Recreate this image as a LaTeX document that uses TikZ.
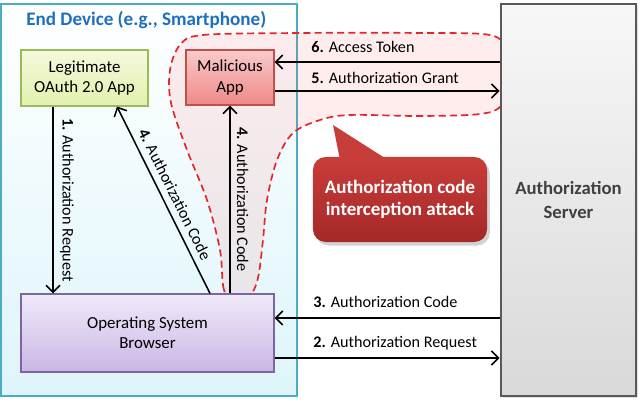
\documentclass[tikz,border=0pt]{standalone}
\usepackage{fontspec}
\setmainfont{Carlito}
\usetikzlibrary{arrows.meta,shadows}

\definecolor{devline}{HTML}{4BACC6}
\definecolor{devbot}{HTML}{DDF5FB}
\definecolor{titleblue}{HTML}{1F6FC0}
\definecolor{legitline}{HTML}{9BBB59}
\definecolor{legittop}{HTML}{F4F9DC}
\definecolor{legitbot}{HTML}{E3F0AE}
\definecolor{malline}{HTML}{C0504D}
\definecolor{maltop}{HTML}{F9CACA}
\definecolor{malbot}{HTML}{EF8888}
\definecolor{brline}{HTML}{7D65A0}
\definecolor{brtop}{HTML}{F0EAF9}
\definecolor{brbot}{HTML}{CAB6E6}
\definecolor{srvline}{HTML}{595959}
\definecolor{srvtext}{HTML}{404040}
\definecolor{attacktop}{HTML}{C73D3A}
\definecolor{attackbot}{HTML}{A62828}
\definecolor{dashred}{HTML}{E3262B}

\tikzset{
	>={Straight Barb[length=5pt,width=10pt]},
	arr/.style={line width=1.1pt},
	box/.style={draw, line width=0.8pt, align=center, font=\fontsize{12}{14.5}\selectfont},
	lbl/.style={font=\fontsize{11.5}{14}\selectfont, inner sep=1.5pt},
	blob/.style={draw=dashred, line width=1.2pt, dash pattern=on 5pt off 3pt, fill=red!70!white, fill opacity=0.1},
}

\begin{document}
\begin{tikzpicture}[x=0.025cm, y=-0.025cm]
	\useasboundingbox (0,0) rectangle (640,406);
	\node[draw=devline, line width=1.6pt, top color=white, bottom color=devbot, minimum width=7.4cm, minimum height=9.8cm] (device) at (149,200) {};
	\node[font=\fontsize{13.6}{16}\selectfont\bfseries, text=titleblue, anchor=base west, inner sep=0pt] (devtitle) at (26,26) {End Device (e.g., Smartphone)};
	\path[blob] plot[smooth cycle, tension=0.55] coordinates {(237,303) (224,290) (220,250) (207,200) (187,150) (171,103) (170,70) (180,45) (203,35) (300,33) (420,33) (490,35) (506,50) (511,77) (502,105) (480,114) (420,116) (350,115) (320,120) (293,133) (277,160) (267,200) (263,240) (258,278) (250,296)};
	\node[box, draw=legitline, top color=legittop, bottom color=legitbot, minimum width=3.175cm, minimum height=1.4cm] (legit) at (84.5,78) {Legitimate\\OAuth 2.0 App};
	\node[box, draw=malline, top color=maltop, bottom color=malbot, minimum width=2.2cm, minimum height=1.375cm] (mal) at (230,77.5) {Malicious\\App};
	\node[box, draw=brline, top color=brtop, bottom color=brbot, minimum width=6.325cm, minimum height=1.95cm] (browser) at (147.5,333) {Operating System\\Browser};
	\node[box, draw=srvline, line width=2pt, top color=white!97!black, bottom color=white!85!black, text=srvtext, font=\fontsize{13.3}{16.5}\selectfont\bfseries, minimum width=3.375cm, minimum height=9.8cm, drop shadow={opacity=0.25, shadow xshift=1.5pt, shadow yshift=-1.5pt}] (server) at (568.5,200) {Authorization\\Server};
	\fill[attacktop] (340,160) -- (333,125) -- (388,160) -- cycle;
	\node[rounded corners=9pt, top color=attacktop, bottom color=attackbot, text=white, align=center, font=\fontsize{13.5}{16}\selectfont\bfseries, minimum width=4.35cm, minimum height=2.125cm, drop shadow={opacity=0.35, shadow xshift=2pt, shadow yshift=-2.5pt}] (attack) at (400,199.5) {Authorization code\\interception attack};

	\draw[arr, ->] (legit.south -| 53,0) -- (browser.north -| 53,0) node[lbl, midway, sloped, above=3pt] (l1) {\textbf{1.} Authorization Request};
	\draw[arr, <-] (legit.south -| 117,0) -- (browser.north -| 210,0) node[lbl, midway, sloped, above=3pt] (l4a) {\textbf{4.} Authorization Code};
	\draw[arr, <-] (mal.south) -- (mal.south |- browser.north) node[lbl, midway, sloped, above=3pt] (l4b) {\textbf{4.} Authorization Code};
	\draw[arr, ->] (server.west |- 0,62) -- (mal.east |- 0,62);
	\node[lbl, anchor=base west] (l6) at (309,53) {\textbf{6.} Access Token};
	\draw[arr, ->] (mal.east |- 0,91) -- (server.west |- 0,91);
	\node[lbl, anchor=base west] (l5) at (309,84) {\textbf{5.} Authorization Grant};
	\draw[arr, ->] (server.west |- 0,318) -- (browser.east |- 0,318);
	\node[lbl, anchor=base west] (l3) at (311,308) {\textbf{3.} Authorization Code};
	\draw[arr, ->] (browser.east |- 0,358) -- (server.west |- 0,358);
	\node[lbl, anchor=base west] (l2) at (311,348) {\textbf{2.} Authorization Request};
\end{tikzpicture}
\end{document}
